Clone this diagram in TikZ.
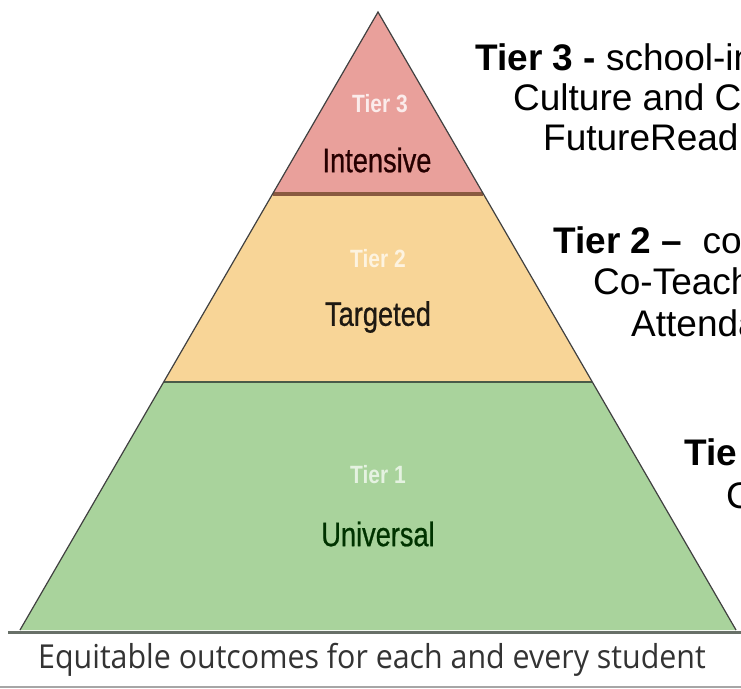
\documentclass[tikz,border=0pt]{standalone}
\usepackage{fontspec}
\setmainfont{Liberation Sans}
\newfontfamily\pyrfont[FakeStretch=0.8,FakeBold=0.7]{Liberation Sans}
\newfontfamily\pyrtierfont[FakeStretch=0.84]{Liberation Sans}
\newfontfamily\eqfont[FakeStretch=0.92]{Open Sans}
\definecolor{tthree}{HTML}{E9A09B}
\definecolor{ttwo}{HTML}{F8D597}
\definecolor{tone}{HTML}{A9D39C}
\definecolor{sepbrown}{HTML}{8A5A40}
\definecolor{sepgray}{HTML}{4A5A48}
\definecolor{baselinecol}{HTML}{687068}
\begin{document}
\begin{tikzpicture}[x=1pt,y=-1pt,
  desc/.style={anchor=base west,inner sep=0pt,font=\fontsize{37}{40}\selectfont},
  tierlbl/.style={inner sep=0pt,font=\pyrtierfont\fontsize{25}{28}\selectfont\bfseries},
  namelbl/.style={inner sep=0pt,font=\pyrfont\fontsize{34}{38}\selectfont}]
\useasboundingbox (0,0) rectangle (741,688);
\clip (0,0) rectangle (741,688);
\fill[white] (0,0) rectangle (741,688);
% pyramid corners
\coordinate (apex) at (378,12);
\coordinate (l3) at (272.6,194);
\coordinate (r3) at (483.4,194);
\coordinate (l2) at (163.8,382);
\coordinate (r2) at (592.2,382);
\coordinate (l1) at (20,630);
\coordinate (r1) at (736,630);
\fill[tthree] (apex) -- (r3) -- (l3) -- cycle;
\fill[ttwo] (l3) -- (r3) -- (r2) -- (l2) -- cycle;
\fill[tone] (l2) -- (r2) -- (r1) -- (l1) -- cycle;
\draw[sepbrown,line width=3.5pt] (l3) -- (r3);
\draw[sepgray,line width=2pt] (l2) -- (r2);
\draw[black!75,line width=1.2pt] (l1) -- (apex) -- (r1);
% base lines
\coordinate (bl) at (8,632);
\coordinate (br) at (741,632);
\draw[baselinecol,line width=3pt] (bl) -- (br);
\coordinate (bbl) at (0,687);
\coordinate (bbr) at (741,687);
\draw[black!35,line width=2pt] (bbl) -- (bbr);
% pyramid labels
\node[tierlbl,text=white!80!tthree] (t3) at (380,104) {Tier 3};
\node[namelbl,text=black!85!red] (n3) at (377,160) {Intensive};
\node[tierlbl,text=white!70!ttwo] (t2) at (378,259) {Tier 2};
\node[namelbl,text=black!88!ttwo] (n2) at (378,317) {Targeted};
\node[tierlbl,text=white!70!tone] (t1) at (378,475) {Tier 1};
\node[namelbl,text=black!80!green] (n1) at (378,534) {Universal};
\node[inner sep=0pt,font=\eqfont\fontsize{33}{36}\selectfont,text=black!80] (eq) at (372,660) {Equitable outcomes for each and every student};
% descriptions (cut off at the right edge, as in the reference)
\node[desc] (d3a) at (475,70) {\textbf{Tier 3 -} school-in};
\node[desc] (d3b) at (513,110) {Culture and C};
\node[desc] (d3c) at (543,150) {FutureRead};
\node[desc] (d2a) at (553,253) {\textbf{Tier 2 –}\ \ co};
\node[desc] (d2b) at (593,294) {Co-Teach};
\node[desc] (d2c) at (631,336) {Attenda};
\node[desc] (d1a) at (684,465) {\textbf{Tie}};
\node[desc] (d1b) at (726,508) {C};
\end{tikzpicture}
\end{document}
